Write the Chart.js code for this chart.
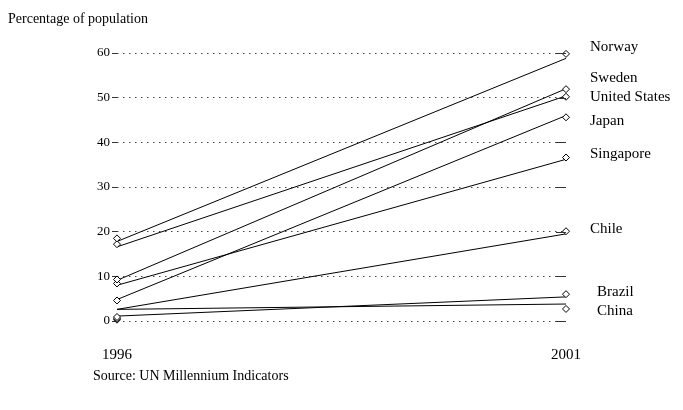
<!DOCTYPE html>
<html>
<head>
<meta charset="utf-8">
<script src="https://cdn.jsdelivr.net/npm/chart.js@4/dist/chart.umd.min.js"></script>
<style>
  body { margin: 0; background: #fff; font-family: "Liberation Serif", serif; }
  #wrap { position: relative; width: 683px; height: 410px; }
  #title { position: absolute; left: 8px; top: 11px; font-size: 14px; color: #000; }
  #source { position: absolute; left: 93px; top: 368px; font-size: 14px; color: #000; }
</style>
</head>
<body>
<div id="wrap">
  <canvas id="chart" width="683" height="410"></canvas>
  <div id="title">Percentage of population</div>
  <div id="source">Source: UN Millennium Indicators</div>
</div>
<script>
const countries = ["Norway", "Sweden", "United States", "Japan", "Singapore", "Chile", "Brazil", "China"];
const years = [1996, 2001];
// marker values
const mark1996 = [18.5, 9.3, 17.2, 4.6, 8.4, 0.9, 0.6, 0.3];
const mark2001 = [59.8, 51.9, 50.2, 45.6, 36.6, 20.1, 6.0, 2.7];
// line end values (drawn slightly off the markers in the original)
const line1996 = [17.8, 9.1, 16.6, 4.8, 8.0, 2.6, 1.1, 2.6];
const line2001 = [58.8, 52.0, 50.4, 46.0, 36.2, 19.5, 5.4, 3.8];
// where the country names sit, in axis units
const labelAt = [61.3, 54.4, 50.1, 44.8, 37.4, 20.6, 6.5, 2.2];
const yTicks = [0, 10, 20, 30, 40, 50, 60];

const serif = "'Liberation Serif', serif";
const datasets = [];
countries.forEach((c, i) => {
  datasets.push({
    label: c + " markers",
    data: [{ x: years[0], y: mark1996[i] }, { x: years[1], y: mark2001[i] }],
    showLine: false,
    pointStyle: "rectRot",
    pointRadius: 3.5,
    pointBackgroundColor: "#fff",
    pointBorderColor: "#000",
    pointBorderWidth: 1,
    clip: false,
    order: 0,
  });
  datasets.push({
    label: c,
    data: [{ x: years[0], y: line1996[i] }, { x: years[1], y: line2001[i] }],
    showLine: true,
    borderColor: "#000",
    borderWidth: 1,
    pointRadius: 0,
    clip: false,
    order: 1,
  });
});

const extras = {
  id: "extras",
  afterDatasetsDraw(chart) {
    const { ctx, chartArea, scales } = chart;
    ctx.save();
    // solid end dashes on the right of each grid line
    ctx.strokeStyle = "#333";
    ctx.lineWidth = 1;
    yTicks.forEach((t) => {
      const y = Math.round(scales.y.getPixelForValue(t)) + 0.5;
      ctx.beginPath();
      ctx.moveTo(chartArea.right - 10, y);
      ctx.lineTo(chartArea.right, y);
      ctx.stroke();
    });
    // country names
    ctx.fillStyle = "#000";
    ctx.font = "15px " + serif;
    ctx.textBaseline = "middle";
    countries.forEach((c, i) => {
      const indent = c === "Brazil" || c === "China" ? 31 : 24;
      ctx.fillText(c, scales.x.getPixelForValue(2001) + indent, scales.y.getPixelForValue(labelAt[i]));
    });
    ctx.restore();
  },
};

new Chart(document.getElementById("chart"), {
  type: "scatter",
  data: { datasets },
  options: {
    responsive: false,
    animation: false,
    layout: { padding: { left: 0, right: 117, top: 53, bottom: 39 } },
    plugins: { legend: { display: false }, tooltip: { enabled: false } },
    scales: {
      x: {
        type: "linear",
        min: 1996,
        max: 2001,
        afterBuildTicks: (s) => { s.ticks = years.map((v) => ({ value: v })); },
        afterFit: (s) => { s.height = 50; },
        grid: { display: false },
        border: { display: false },
        ticks: { color: "#000", font: { family: serif, size: 15 }, padding: 17, callback: (v) => String(v) },
      },
      y: {
        min: 0,
        max: 60,
        afterBuildTicks: (s) => { s.ticks = yTicks.map((v) => ({ value: v })); },
        afterFit: (s) => { s.width = 117; },
        grid: { color: "#444", tickLength: 5, tickBorderDash: [], tickColor: "#333" },
        border: { display: false, dash: [1.5, 4.5] },
        ticks: { color: "#000", font: { family: serif, size: 13 }, padding: 2 },
      },
    },
  },
  plugins: [extras],
});
</script>
</body>
</html>
